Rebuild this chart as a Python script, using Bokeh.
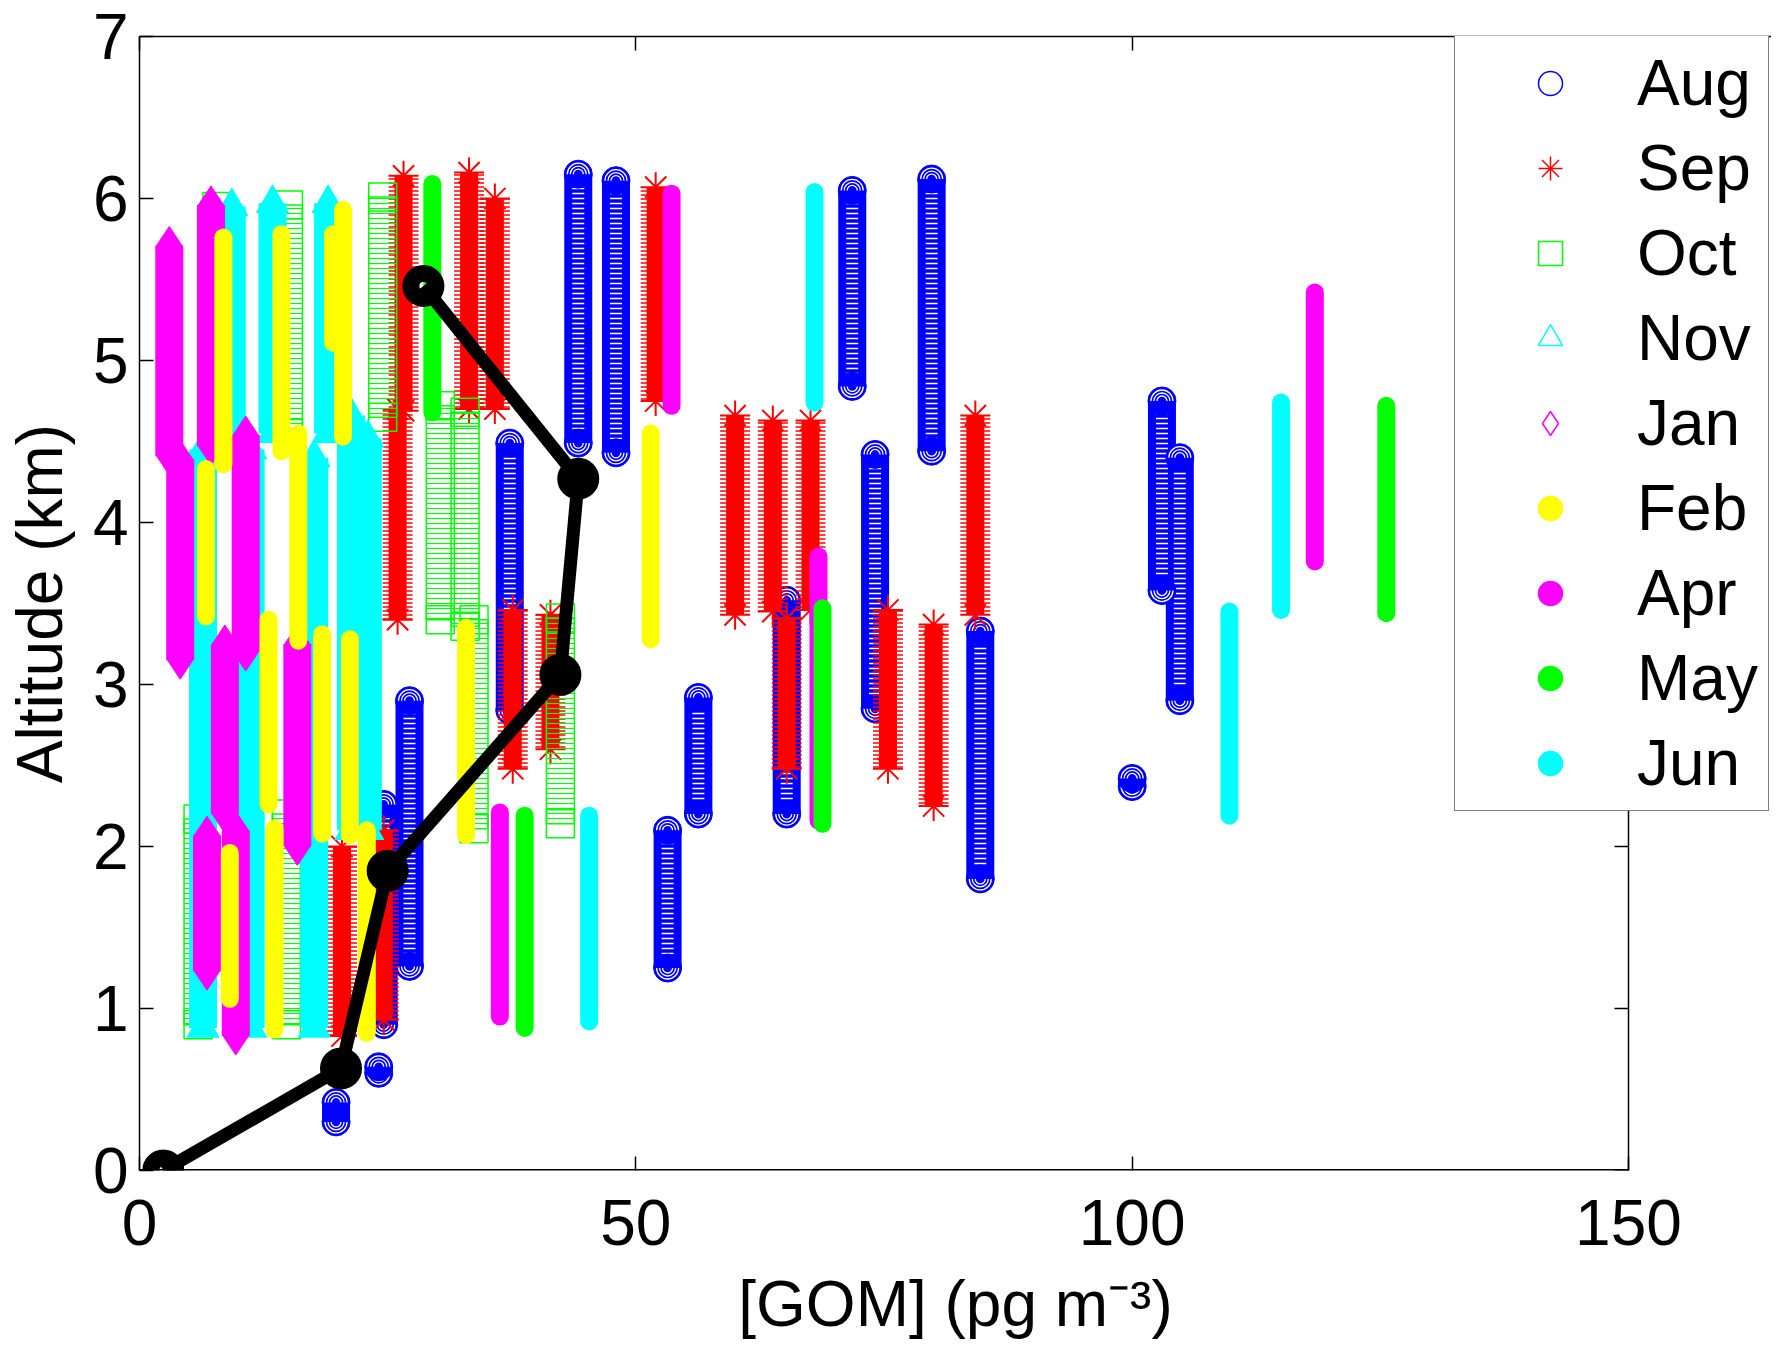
import math
from bokeh.plotting import figure
from bokeh.models import (ColumnDataSource, Legend, LegendItem, LinearAxis,
                          FixedTicker, Range1d)
from bokeh.embed import file_html
from bokeh.resources import INLINE

# ---------------- data (x = [GOM] pg m-3, lo/hi = altitude range in km) -------------
aug_x  = [44.2, 48.0, 37.3, 27.2, 24.6, 24.1, 19.8, 56.3, 53.2, 65.2, 74.1, 71.8, 79.8, 84.7, 100.0, 103.0, 104.8]
aug_lo = [4.49, 4.43, 2.84, 1.26, 0.90, 0.60, 0.30, 2.20, 1.25, 2.20, 2.85, 4.84, 4.44, 1.80, 2.37, 3.58, 2.90]
aug_hi = [6.15, 6.11, 4.49, 2.90, 2.26, 0.64, 0.42, 2.92, 2.10, 3.52, 4.42, 6.05, 6.12, 3.33, 2.42, 4.75, 4.40]

sep_x  = [26.6, 26.0, 20.4, 24.6, 33.2, 35.8, 52.0, 37.6, 41.4, 60.0, 63.8, 67.6, 65.2, 75.4, 80.0, 84.2]
sep_lo = [4.69, 3.40, 0.83, 0.93, 4.70, 4.70, 4.75, 2.48, 2.60, 3.43, 3.45, 3.46, 2.48, 2.48, 2.25, 3.43]
sep_hi = [6.14, 4.70, 2.00, 2.10, 6.16, 6.00, 6.07, 3.46, 3.43, 4.66, 4.63, 4.63, 3.41, 3.46, 3.37, 4.66]

oct_x  = [5.9, 14.8, 7.8, 15.0, 24.5, 30.3, 32.8, 33.7, 42.4]
oct_lo = [0.90, 0.90, 4.60, 4.55, 4.65, 3.40, 3.36, 2.11, 2.14]
oct_hi = [2.17, 2.20, 5.95, 5.96, 6.01, 4.72, 4.68, 3.40, 3.41]

nov_x  = [9.3, 13.4, 19.0, 6.4, 11.2, 17.6, 21.3, 23.0]
nov_lo = [4.50, 4.55, 4.55, 0.88, 0.88, 0.88, 2.10, 2.10]
nov_hi = [5.95, 5.97, 5.97, 4.45, 4.45, 4.40, 4.66, 4.52]

jan_x  = [3.0, 4.1, 7.2, 10.7, 8.6, 6.8, 9.7, 15.9]
jan_lo = [4.41, 3.15, 4.47, 3.20, 2.20, 1.23, 0.83, 2.00]
jan_hi = [5.71, 4.39, 5.96, 4.54, 3.25, 2.07, 2.10, 3.25]

feb_x  = [8.45, 14.3, 20.5, 19.5, 6.7, 16.0, 13.0, 18.4, 21.2, 9.1, 13.6, 22.9, 32.9, 51.5]
feb_lo = [4.36, 4.44, 4.53, 5.11, 3.42, 3.27, 2.26, 2.08, 2.07, 1.06, 0.87, 0.85, 2.07, 3.28]
feb_hi = [5.76, 5.78, 5.93, 5.78, 4.33, 4.55, 3.40, 3.31, 3.28, 1.96, 2.11, 2.10, 3.35, 4.55]

apr_x  = [53.6, 36.3, 68.4, 118.4]
apr_lo = [4.72, 0.95, 2.16, 3.76]
apr_hi = [6.03, 2.21, 3.79, 5.42]

may_x  = [29.5, 38.8, 68.8, 125.6]
may_lo = [4.68, 0.88, 2.14, 3.44]
may_hi = [6.09, 2.19, 3.47, 4.72]

jun_x  = [45.3, 68.0, 109.8, 115.0]
jun_lo = [0.92, 4.74, 2.19, 3.46]
jun_hi = [2.19, 6.04, 3.45, 4.74]

mean_x = [2.4, 20.3, 25.0, 42.4, 44.2, 28.6]
mean_y = [0.0, 0.63, 1.85, 3.06, 4.27, 5.46]

x_ticks = [0, 50, 100, 150]
y_ticks = [0, 1, 2, 3, 4, 5, 6, 7]
months = ["Aug", "Sep", "Oct", "Nov", "Jan", "Feb", "Apr", "May", "Jun"]

FONT = "Liberation Sans"
FS = "64px"

# axes box covers x 0..150 over 1489 px; the frame is widened so the legend
# (which sticks out to the right of the axes box) is not clipped
X_MAX = 150.0
PX_PER_UNIT = 1489 / X_MAX
FRAME_W = 1632
FRAME_H = 1134
p = figure(frame_width=FRAME_W, frame_height=FRAME_H,
           x_range=Range1d(0, FRAME_W / PX_PER_UNIT), y_range=Range1d(0, 7),
           output_backend="svg", toolbar_location=None,
           min_border_left=130, min_border_top=36,
           min_border_right=0, min_border_bottom=168,
           background_fill_color="white", border_fill_color="white")
p.grid.visible = False
p.outline_line_color = None


def src(xs, lo, hi):
    return ColumnDataSource(dict(
        x=xs, lo=lo, hi=hi,
        yc=[(a + b) / 2 for a, b in zip(lo, hi)],
        h=[b - a for a, b in zip(lo, hi)]))


# ---- Aug: stacked open circles ----
s = src(aug_x, aug_lo, aug_hi)
p.rect(x="x", y="yc", width=28, width_units="screen", height="h", source=s,
       fill_color="#0000FF", line_color=None)
p.rect(x="x", y="yc", width=12, width_units="screen", height="h", source=s,
       fill_alpha=0, line_color=None, hatch_pattern="horizontal_line",
       hatch_color="white", hatch_scale=5, hatch_weight=1.5)
for col, a0, a1 in (("lo", math.pi, 2 * math.pi), ("hi", 0.0, math.pi)):
    p.scatter(x="x", y=col, source=s, marker="circle", size=28,
              fill_color="#0000FF", line_color="#0000FF")
    for rr in (5, 8, 11):
        p.arc(x="x", y=col, source=s, radius=rr, radius_units="screen",
              start_angle=a0, end_angle=a1, line_color="white", line_width=1.3)

# ---- Sep: stacked asterisks ----
s = src(sep_x, sep_lo, sep_hi)
p.rect(x="x", y="yc", width=30, width_units="screen", height="h", source=s,
       fill_alpha=0, line_color=None, hatch_pattern="horizontal_line",
       hatch_color="#FF0000", hatch_scale=4, hatch_weight=1.5)
p.rect(x="x", y="yc", width=18, width_units="screen", height="h", source=s,
       fill_color="#FF0000", line_color=None)
for col in ("lo", "hi"):
    p.scatter(x="x", y=col, source=s, marker="asterisk", size=30,
              line_color="#FF0000", line_width=2)

# ---- Oct: stacked open squares ----
s = src(oct_x, oct_lo, oct_hi)
p.rect(x="x", y="yc", width=28, width_units="screen", height="h", source=s,
       fill_alpha=0, line_color="#00FF00", line_width=1.5,
       hatch_pattern="horizontal_line", hatch_color="#00FF00",
       hatch_scale=5, hatch_weight=1.2)
for col in ("lo", "hi"):
    p.scatter(x="x", y=col, source=s, marker="square", size=28,
              fill_color=None, line_color="#00FF00", line_width=1.5)

# ---- Nov: stacked open triangles ----
s = src(nov_x, nov_lo, nov_hi)
p.rect(x="x", y="yc", width=28, width_units="screen", height="h", source=s,
       fill_color="#00FFFF", line_color=None)
for col in ("lo", "hi"):
    p.scatter(x="x", y=col, source=s, marker="triangle", size=32,
              fill_color="#00FFFF", line_color="#00FFFF")

# ---- Jan: stacked open diamonds ----
s = src(jan_x, jan_lo, jan_hi)
p.rect(x="x", y="yc", width=28, width_units="screen", height="h", source=s,
       fill_color="#FF00FF", line_color=None)
for col in ("lo", "hi"):
    p.scatter(x="x", y=col, source=s, marker="diamond", size=38,
              fill_color="#FF00FF", line_color="#FF00FF")

# ---- dot months: stacked filled dots ----
for xs, lo, hi, c in [(feb_x, feb_lo, feb_hi, "#FFFF00"),
                      (apr_x, apr_lo, apr_hi, "#FF00FF"),
                      (may_x, may_lo, may_hi, "#00FF00"),
                      (jun_x, jun_lo, jun_hi, "#00FFFF")]:
    s = src(xs, lo, hi)
    p.segment(x0="x", y0="lo", x1="x", y1="hi", source=s,
              line_color=c, line_width=18, line_cap="round")

# ---- mean profile ----
p.line(mean_x, mean_y, line_color="black", line_width=13)
p.scatter(mean_x, mean_y, marker="circle", size=25, fill_color=None,
          line_color="black", line_width=17)

# ---- axes box: bottom and right edges end at x = 150 ----
p.segment(x0=[x_ticks[0]], y0=[y_ticks[0]], x1=[x_ticks[-1]], y1=[y_ticks[0]],
          line_color="black", line_width=3)
p.segment(x0=[x_ticks[-1]], y0=[y_ticks[0]], x1=[x_ticks[-1]], y1=[y_ticks[-1]],
          line_color="black", line_width=1.5)
p.ray(x=[x_ticks[-1]] * len(y_ticks), y=y_ticks, length=14,
      length_units="screen", angle=math.pi, line_color="black", line_width=1.5)

# ---- legend (proxy renderers, their single point lies outside the view) ----
leg_specs = [
    ("circle", None, "#0000FF"),
    ("asterisk", None, "#FF0000"),
    ("square", None, "#00FF00"),
    ("triangle", None, "#00FFFF"),
    ("diamond", None, "#FF00FF"),
    ("circle", "#FFFF00", "#FFFF00"),
    ("circle", "#FF00FF", "#FF00FF"),
    ("circle", "#00FF00", "#00FF00"),
    ("circle", "#00FFFF", "#00FFFF"),
]
items = []
for m, (mk, fc, lc) in zip(months, leg_specs):
    r = p.scatter(x=[-100], y=[-100], marker=mk, size=26, fill_color=fc,
                  line_color=lc, line_width=1.5)
    items.append(LegendItem(label=m, renderers=[r]))
legend = Legend(items=items, location=(1315, FRAME_H - 775), padding=10,
                spacing=11, glyph_height=60, glyph_width=170, label_height=60,
                label_standoff=2, label_text_font=FONT,
                label_text_font_size=FS, label_text_color="black", margin=0,
                border_line_color="black", border_line_width=1.5,
                background_fill_color="white", background_fill_alpha=1)
p.add_layout(legend, "center")

# ---- axes ----
p.xaxis.ticker = FixedTicker(ticks=x_ticks)
p.yaxis.ticker = FixedTicker(ticks=y_ticks)
for ax in (p.xaxis[0], p.yaxis[0]):
    ax.major_tick_in = 14
    ax.major_tick_out = 0
    ax.minor_tick_in = 0
    ax.minor_tick_out = 0
    ax.axis_line_width = 1.5
    ax.major_tick_line_width = 1.5
    ax.major_label_text_font = FONT
    ax.major_label_text_font_size = FS
    ax.major_label_text_color = "black"
    ax.axis_label_text_font = FONT
    ax.axis_label_text_font_size = FS
    ax.axis_label_text_font_style = "normal"
    ax.axis_label_text_color = "black"
p.xaxis.axis_line_color = None
p.yaxis.axis_label = "Altitude (km)"
p.yaxis.major_label_standoff = 11
p.yaxis.axis_label_standoff = 14
p.xaxis.axis_label = "[GOM] (pg m\u207b\u00b3)"
p.xaxis.major_label_standoff = 29
p.xaxis.axis_label_standoff = 20

top = LinearAxis(ticker=FixedTicker(ticks=x_ticks), major_tick_in=14,
                 major_tick_out=0, minor_tick_in=0, minor_tick_out=0,
                 major_label_text_color=None, major_label_text_font_size="1px",
                 major_label_standoff=0, axis_line_width=1.5,
                 major_tick_line_width=1.5)
p.add_layout(top, "above")

open("out.html", "w").write(file_html(p, INLINE))
